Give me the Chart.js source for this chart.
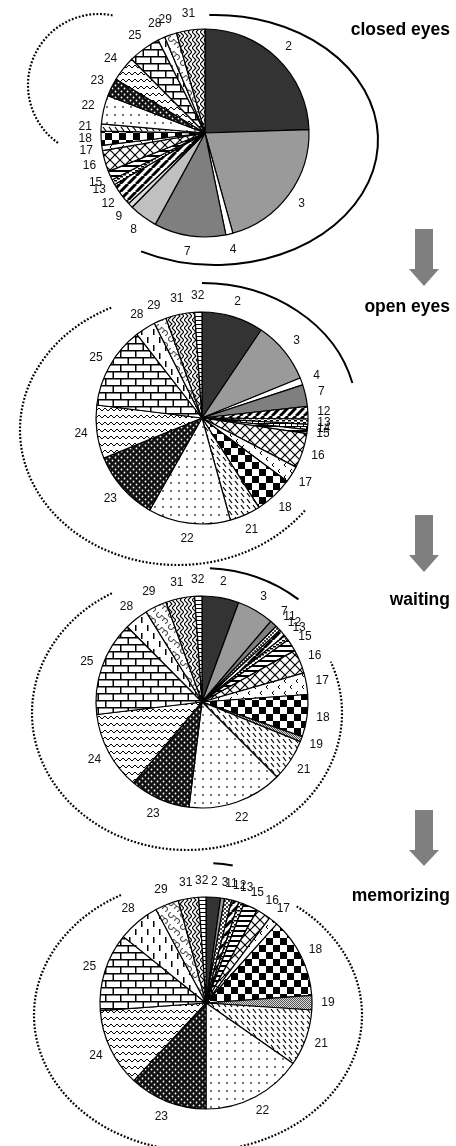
<!DOCTYPE html>
<html>
<head>
<meta charset="utf-8">
<script src="https://cdn.jsdelivr.net/npm/chart.js@4.4.0/dist/chart.umd.min.js"></script>
<style>
  html, body { margin: 0; padding: 0; background: #fff; }
  #wrap { position: relative; width: 456px; height: 1146px; overflow: hidden; background: #fff; }
  #wrap canvas { position: absolute; left: 0; top: 0; }
</style>
</head>
<body>
<div id="wrap">
  <canvas id="pieClosed" width="456" height="1146"></canvas>
  <canvas id="pieOpen" width="456" height="1146"></canvas>
  <canvas id="pieWaiting" width="456" height="1146"></canvas>
  <canvas id="pieMemo" width="456" height="1146"></canvas>
</div>
<script>
// Share of each numbered category (percent) in the four conditions
const closedLabels  = ['2','3','4','7','8','9','12','13','15','16','17','18','21','22','23','24','25','28','29','31'];
const closedValues  = [24.4,21.1,1.1,11.1,4.4,0.8,3.6,0.8,1.4,3.3,0.8,2.2,1.1,4.4,2.8,3.9,5.0,1.1,1.9,4.4];

const openLabels    = ['2','3','4','7','12','13','14','15','16','17','18','21','22','23','24','25','28','29','31','32'];
const openValues    = [9.4,9.4,1.1,3.3,1.9,0.8,0.8,0.6,5.3,2.5,5.8,4.7,12.5,10.6,8.1,12.5,3.1,1.9,4.4,1.1];

const waitingLabels = ['2','3','7','11','12','13','15','16','17','18','19','21','22','23','24','25','28','29','31','32'];
const waitingValues = [5.6,5.6,1.1,0.8,1.1,0.8,1.9,3.6,3.3,6.4,0.8,6.4,14.4,9.2,11.9,14.4,3.6,3.3,4.4,1.1];

const memoLabels    = ['2','3','11','12','13','15','16','17','18','19','21','22','23','24','25','28','29','31','32'];
const memoValues    = [2.2,0.6,1.1,1.1,0.8,2.2,2.2,1.4,12.2,2.2,8.6,15.3,11.9,11.9,11.9,6.4,3.6,3.1,1.1];

const conditionTitles = ['closed eyes', 'open eyes', 'waiting', 'memorizing'];

Chart.defaults.font.family = '"Liberation Sans", Arial, sans-serif';

// ---- fill patterns, one per category ----
function tile(w, h, bg, draw) {
  const c = document.createElement('canvas');
  c.width = w; c.height = h;
  const g = c.getContext('2d');
  g.fillStyle = bg; g.fillRect(0, 0, w, h);
  g.strokeStyle = '#000'; g.fillStyle = '#000'; g.lineWidth = 1;
  draw(g, w, h);
  return g.createPattern(c, 'repeat');
}
function line(g, pts, lw) {
  g.beginPath();
  g.lineWidth = lw || 1;
  g.moveTo(pts[0], pts[1]);
  for (let i = 2; i < pts.length; i += 2) g.lineTo(pts[i], pts[i + 1]);
  g.stroke();
}
function dot(g, x, y, r, col) {
  g.beginPath(); g.fillStyle = col; g.arc(x, y, r, 0, Math.PI * 2); g.fill();
}

const fills = {
  '2': '#333333',
  '3': '#9a9a9a',
  '4': '#ffffff',
  '7': '#7f7f7f',
  '8': '#c0c0c0',
  '9': '#dcdcdc',
  '11': tile(4, 4, '#fff', g => { g.fillStyle = '#444'; g.fillRect(0, 0, 2, 2); g.fillRect(2, 2, 2, 2); }),
  '12': tile(8, 8, '#fff', g => { for (let i = -1; i <= 1; i++) line(g, [i * 8, 8, i * 8 + 8, 0], 3); }),
  '13': tile(6, 4, '#fff', g => { g.fillRect(0, 0, 3, 1.5); g.fillRect(3, 2, 3, 1.5); }),
  '14': tile(6, 6, '#fff', g => { g.fillRect(0, 0, 6, 1); g.fillRect(0, 3, 6, 1); g.fillRect(0, 0, 1, 3); g.fillRect(3, 3, 1, 3); }),
  '15': tile(2, 5, '#fff', g => { g.fillRect(0, 0, 2, 2); }),
  '16': tile(10, 10, '#fff', g => { line(g, [0, 0, 10, 10], 1.2); line(g, [0, 10, 10, 0], 1.2); line(g, [-1, 9, 1, 11], 1.2); line(g, [9, -1, 11, 1], 1.2); line(g, [-1, 1, 1, -1], 1.2); line(g, [9, 11, 11, 9], 1.2); }),
  '17': tile(12, 12, '#fff', g => { line(g, [4, 1, 2, 3, 4, 5], 1); line(g, [10, 7, 8, 9, 10, 11], 1); }),
  '18': tile(14, 14, '#fff', g => { g.fillRect(0, 0, 7, 7); g.fillRect(7, 7, 7, 7); }),
  '19': tile(2, 2, '#d8d8d8', g => { g.fillStyle = '#555'; g.fillRect(0, 0, 1, 1); g.fillRect(1, 1, 1, 1); }),
  '21': tile(6, 6, '#fff', g => { line(g, [1, 1, 4, 5], 1.2); }),
  '22': tile(8, 8, '#fff', g => { dot(g, 3, 3, 0.9, '#333'); }),
  '23': tile(6, 6, '#111', g => { dot(g, 1.5, 1.5, 0.9, '#fff'); dot(g, 4.5, 4.5, 0.9, '#fff'); }),
  '24': tile(6, 7, '#fff', g => { line(g, [0, 5, 3, 2, 6, 5], 1); line(g, [-3, 2, 0, 5], 1); line(g, [6, 5, 9, 2], 1); }),
  '25': tile(15, 14, '#fff', g => { g.fillRect(0, 0, 15, 1.5); g.fillRect(0, 7, 15, 1.5); g.fillRect(0, 0, 1.5, 7); g.fillRect(7.5, 7, 1.5, 7); }),
  '28': tile(12, 16, '#fff', g => { g.fillRect(3, 1, 1.5, 6); g.fillRect(9, 9, 1.5, 6); }),
  '29': tile(12, 12, '#fff', g => {
    g.lineWidth = 1; g.strokeStyle = '#333';
    g.beginPath(); g.arc(3, 3, 2.5, 0, Math.PI * 1.5); g.stroke();
    g.beginPath(); g.arc(9, 9, 2.5, Math.PI, Math.PI * 2.5); g.stroke();
    line(g, [5.5, 3, 9, 6.5], 1);
  }),
  '31': tile(8, 8, '#fff', g => { line(g, [0, 0, 4, 4, 0, 8], 1.1); line(g, [4, 0, 8, 4, 4, 8], 1.1); }),
  '32': tile(4, 4, '#fff', g => { g.fillRect(0, 0, 4, 1); })
};

// ---- drawing helpers for the overlay ----
function drawEllipseArc(ctx, cx, cy, rx, ry, a0, a1, ccw, dotted) {
  ctx.save();
  ctx.beginPath();
  ctx.ellipse(cx, cy, rx, ry, 0, a0 * Math.PI / 180, a1 * Math.PI / 180, ccw);
  ctx.strokeStyle = '#000';
  if (dotted) {
    ctx.lineWidth = 2.2;
    ctx.setLineDash([1.8, 1.8]);
  } else {
    ctx.lineWidth = 2;
  }
  ctx.stroke();
  ctx.restore();
}

function drawArrow(ctx, top, headTop, tip) {
  ctx.save();
  ctx.fillStyle = '#7f7f7f';
  ctx.beginPath();
  ctx.moveTo(415, top);
  ctx.lineTo(433, top);
  ctx.lineTo(433, headTop);
  ctx.lineTo(439, headTop);
  ctx.lineTo(424, tip);
  ctx.lineTo(409, headTop);
  ctx.lineTo(415, headTop);
  ctx.closePath();
  ctx.fill();
  ctx.restore();
}

// per-chart overlay: slice labels, group brackets, condition title, arrow
const overlay = {
  id: 'overlay',
  afterDatasetsDraw(chart, args, opts) {
    const ctx = chart.ctx;
    const meta = chart.getDatasetMeta(0);
    const labels = chart.data.labels;
    ctx.save();
    ctx.fillStyle = '#111';
    ctx.font = '12px "Liberation Sans", Arial, sans-serif';
    ctx.textAlign = 'center';
    ctx.textBaseline = 'middle';
    let cx = 0, cy = 0;
    meta.data.forEach((arc, i) => {
      const p = arc.getProps(['x', 'y', 'startAngle', 'endAngle', 'outerRadius'], true);
      cx = p.x; cy = p.y;
      const mid = (p.startAngle + p.endAngle) / 2;
      const rr = p.outerRadius + 16;
      ctx.fillText(labels[i], p.x + Math.cos(mid) * rr, p.y + Math.sin(mid) * rr);
    });
    ctx.restore();

    (opts.arcs || []).forEach(a => {
      drawEllipseArc(ctx, cx + a.dx, cy + a.dy, a.rx, a.ry, a.from, a.to, a.ccw, a.dotted);
    });

    ctx.save();
    ctx.fillStyle = '#000';
    ctx.font = 'bold 17.5px "Liberation Sans", Arial, sans-serif';
    ctx.textAlign = 'right';
    ctx.textBaseline = 'alphabetic';
    ctx.fillText(opts.title, 450, opts.titleY);
    ctx.restore();

    if (opts.arrow) drawArrow(ctx, opts.arrow[0], opts.arrow[1], opts.arrow[2]);
  }
};

function makePie(id, labels, values, center, radius, ov) {
  const half = 116;
  return new Chart(document.getElementById(id), {
    type: 'pie',
    data: {
      labels: labels,
      datasets: [{
        data: values,
        backgroundColor: labels.map(l => fills[l]),
        borderColor: '#000',
        borderWidth: 1.2
      }]
    },
    options: {
      responsive: false,
      animation: false,
      events: [],
      radius: radius,
      layout: {
        padding: {
          left: center[0] - half,
          right: 456 - (center[0] + half),
          top: center[1] - half,
          bottom: 1146 - (center[1] + half)
        }
      },
      plugins: {
        legend: { display: false },
        tooltip: { enabled: false },
        title: { display: false },
        overlay: ov
      }
    },
    plugins: [overlay]
  });
}

makePie('pieClosed', closedLabels, closedValues, [205, 133], 104, {
  title: conditionTitles[0], titleY: 35, arrow: [229, 269, 286],
  arcs: [
    { dx: 10, dy: 7, rx: 163, ry: 125, from: -92, to: 117, ccw: false, dotted: false },
    { dx: -106, dy: -48, rx: 71, ry: 71, from: -79, to: 124, ccw: true, dotted: true }
  ]
});

makePie('pieOpen', openLabels, openValues, [202, 418], 106, {
  title: conditionTitles[1], titleY: 312, arrow: [515, 555, 572],
  arcs: [
    { dx: 0, dy: -3, rx: 155, ry: 132, from: -90, to: -14, ccw: false, dotted: false },
    { dx: -24, dy: 12, rx: 158, ry: 135, from: -115, to: 36, ccw: true, dotted: true }
  ]
});

makePie('pieWaiting', waitingLabels, waitingValues, [202, 702], 106, {
  title: conditionTitles[2], titleY: 605, arrow: [810, 850, 866],
  arcs: [
    { dx: 0, dy: 0, rx: 150, ry: 134, from: -87, to: -50, ccw: false, dotted: false },
    { dx: -15, dy: 11, rx: 155, ry: 137, from: -119, to: -22, ccw: true, dotted: true }
  ]
});

makePie('pieMemo', memoLabels, memoValues, [206, 1003], 106, {
  title: conditionTitles[3], titleY: 901, arrow: null,
  arcs: [
    { dx: 0, dy: 0, rx: 140, ry: 140, from: -87, to: -79, ccw: false, dotted: false },
    { dx: -8, dy: 12, rx: 164, ry: 136, from: -118, to: -53, ccw: true, dotted: true }
  ]
});
</script>
</body>
</html>
